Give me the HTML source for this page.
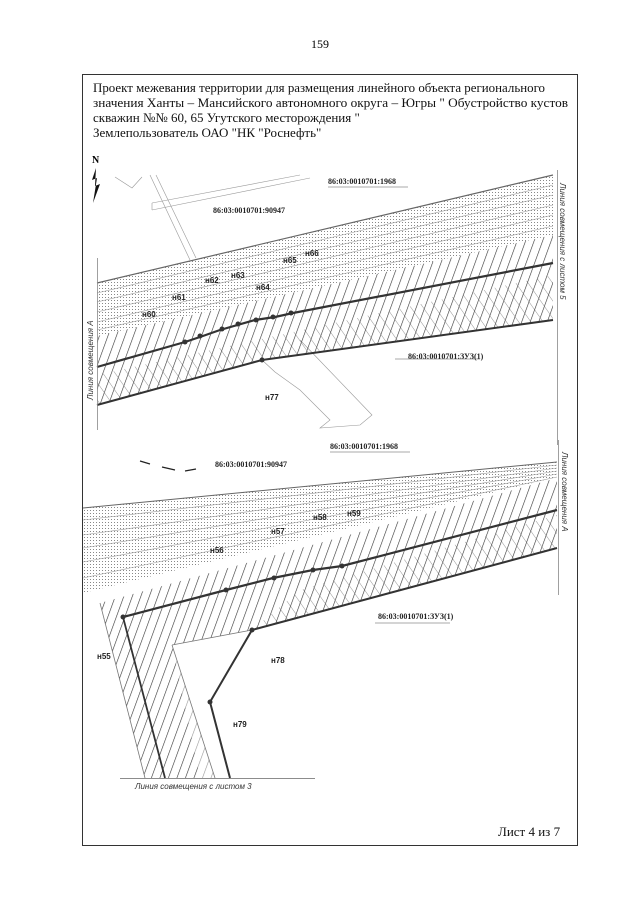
<!DOCTYPE html>
<html><head><meta charset="utf-8"><style>
html,body{margin:0;padding:0;background:#fff;}
svg{display:block}
.s{font-family:"Liberation Serif",serif;}
.a{font-family:"Liberation Sans",sans-serif;}
</style></head><body>
<svg width="640" height="905" viewBox="0 0 640 905" xmlns="http://www.w3.org/2000/svg">
<defs>
<pattern id="h1" patternUnits="userSpaceOnUse" width="8" height="8" patternTransform="rotate(20)">
<line x1="0" y1="0" x2="0" y2="8" stroke="#333" stroke-width="1.2"/></pattern>
<pattern id="h2" patternUnits="userSpaceOnUse" width="10" height="10" patternTransform="rotate(-35)">
<line x1="0" y1="0" x2="0" y2="10" stroke="#666" stroke-width="0.7"/></pattern>
<pattern id="dots" patternUnits="userSpaceOnUse" width="3" height="3">
<rect x="0" y="0" width="1" height="1" fill="#888"/></pattern>
</defs>
<text x="320" y="48" class="s" font-size="12" text-anchor="middle">159</text>
<rect x="82.5" y="74.5" width="495" height="771" fill="none" stroke="#333" stroke-width="1"/>
<g class="s" font-size="13" fill="#111">
<text x="93" y="92" textLength="452" lengthAdjust="spacingAndGlyphs">Проект межевания территории для размещения линейного объекта регионального</text>
<text x="93" y="107" textLength="475" lengthAdjust="spacingAndGlyphs">значения Ханты – Мансийского автономного округа – Югры " Обустройство кустов</text>
<text x="93" y="122">скважин №№ 60, 65 Угутского месторождения "</text>
<text x="93" y="137">Землепользователь ОАО "НК "Роснефть"</text>
</g>
<text x="92" y="163" class="s" font-size="10" font-weight="bold">N</text>
<path d="M96 168 L92 180 L97 178 L93 203 L100 184 L95 186 Z" fill="#111"/>

<!-- TOP SECTION -->
<g>
<polygon points="97,283 553,175 553,235 97,336" fill="url(#dots)"/>
<g stroke="#999" stroke-width="0.6" fill="none">
<line x1="97" y1="283" x2="553" y2="175" stroke="#666" stroke-width="1.2"/>
<line x1="97" y1="293" x2="553" y2="185"/>
<line x1="97" y1="302" x2="553" y2="195"/>
<line x1="97" y1="312" x2="553" y2="205"/>
<line x1="97" y1="322" x2="553" y2="215"/>
<line x1="97" y1="330" x2="553" y2="226"/>
<line x1="150" y1="175" x2="190" y2="260"/>
<line x1="156" y1="175" x2="196" y2="258"/>
<polyline points="115,177 132,188 142,177"/>
<polyline points="152,203 300,175"/>
<polyline points="152,210 310,178"/>
<line x1="152" y1="203" x2="152" y2="210"/>
<polyline points="262,360 275,372 300,390 330,420 320,428 360,425 372,415 300,340"/>
</g>
<polygon points="97,336 553,235 553,320 262,360 97,405" fill="url(#h1)"/>
<polygon points="97,375 553,275 553,320 262,360 97,405" fill="url(#h2)"/>
<polyline points="97,367 185,342 200,337 220,330 255,320 275,317 293,313 553,263" fill="none" stroke="#333" stroke-width="2.2"/>
<polyline points="97,405 262,360 553,320" fill="none" stroke="#333" stroke-width="2"/>
<g fill="#333"><circle cx="185" cy="342" r="2.5"/><circle cx="200" cy="336" r="2.5"/><circle cx="222" cy="329" r="2.5"/><circle cx="238" cy="324" r="2.5"/><circle cx="256" cy="320" r="2.5"/><circle cx="273" cy="317" r="2.5"/><circle cx="291" cy="313" r="2.5"/><circle cx="262" cy="360" r="2.5"/></g>
<line x1="97.5" y1="258" x2="97.5" y2="430" stroke="#888" stroke-width="0.8"/>
<line x1="557.5" y1="170" x2="557.5" y2="445" stroke="#888" stroke-width="0.8"/>
<g class="s" font-size="8" font-weight="bold" fill="#222">
<text x="328" y="184">86:03:0010701:1968</text>
<text x="213" y="213">86:03:0010701:90947</text>
<text x="408" y="359">86:03:0010701:ЗУЗ(1)</text>
</g>
<line x1="328" y1="187" x2="408" y2="187" stroke="#555" stroke-width="0.6"/>
<line x1="395" y1="359" x2="480" y2="359" stroke="#555" stroke-width="0.6"/>
<g class="a" font-size="8" font-weight="bold" fill="#222">
<text x="142" y="317">н60</text><text x="172" y="300">н61</text><text x="205" y="283">н62</text>
<text x="231" y="278">н63</text><text x="256" y="290">н64</text><text x="283" y="263">н65</text>
<text x="305" y="256">н66</text><text x="265" y="400">н77</text>
</g>
<text transform="translate(93,400) rotate(-90)" class="a" font-size="8" font-style="italic" fill="#333">Линия совмещения А</text>
<text transform="translate(560,183) rotate(90)" class="a" font-size="8" font-style="italic" fill="#333">Линия совмещения с листом 5</text>
</g>

<!-- BOTTOM SECTION -->
<g>
<path d="M140 461 L150 464 M162 467 L175 470 M185 471 L196 469" stroke="#222" stroke-width="1.2" fill="none"/>
<polygon points="83,508 557,462 557,477 83,593" fill="url(#dots)"/>
<g stroke="#999" stroke-width="0.6" fill="none">
<line x1="83" y1="508" x2="557" y2="462" stroke="#666" stroke-width="1"/>
<line x1="83" y1="520" x2="557" y2="465"/>
<line x1="83" y1="535" x2="557" y2="468"/>
<line x1="83" y1="548" x2="557" y2="471"/>
<line x1="83" y1="562" x2="557" y2="474"/>
<line x1="83" y1="578" x2="557" y2="477"/>
</g>
<polygon points="100,603 557,478 557,548 252,630 172,645 215,778 145,778" fill="url(#h1)"/>
<polygon points="172,645 210,702 230,778 200,778" fill="#fff" opacity="0.5"/>
<polygon points="300,590 557,515 557,548 252,630" fill="url(#h2)"/>
<g stroke="#777" stroke-width="0.8" fill="none">
<polyline points="100,603 145,778"/>
<polyline points="172,645 252,630"/>
<polyline points="172,645 215,778"/>
</g>
<polyline points="123,617 226,590 273,578 313,570 342,566 557,510" fill="none" stroke="#333" stroke-width="2.2"/>
<line x1="123" y1="617" x2="165" y2="778" stroke="#333" stroke-width="1.8"/>
<polyline points="557,548 252,630 210,702 230,778" fill="none" stroke="#333" stroke-width="2"/>
<g fill="#333"><circle cx="123" cy="617" r="2.5"/><circle cx="226" cy="590" r="2.5"/><circle cx="274" cy="578" r="2.5"/><circle cx="313" cy="570" r="2.5"/><circle cx="342" cy="566" r="2.5"/><circle cx="252" cy="630" r="2.5"/><circle cx="210" cy="702" r="2.5"/></g>
<line x1="120" y1="778.5" x2="315" y2="778.5" stroke="#666" stroke-width="0.8"/>
<line x1="558.5" y1="440" x2="558.5" y2="595" stroke="#888" stroke-width="0.8"/>
<g class="s" font-size="8" font-weight="bold" fill="#222">
<text x="330" y="449">86:03:0010701:1968</text>
<text x="215" y="467">86:03:0010701:90947</text>
<text x="378" y="619">86:03:0010701:ЗУЗ(1)</text>
</g>
<line x1="330" y1="452" x2="410" y2="452" stroke="#555" stroke-width="0.6"/>
<line x1="375" y1="623" x2="450" y2="623" stroke="#555" stroke-width="0.6"/>
<g class="a" font-size="8" font-weight="bold" fill="#222">
<text x="97" y="659">н55</text><text x="210" y="553">н56</text><text x="271" y="534">н57</text>
<text x="313" y="520">н58</text><text x="347" y="516">н59</text><text x="271" y="663">н78</text>
<text x="233" y="727">н79</text>
</g>
<text x="135" y="789" class="a" font-size="8" font-style="italic" fill="#333">Линия совмещения с листом 3</text>
<text transform="translate(562,452) rotate(90)" class="a" font-size="8" font-style="italic" fill="#333">Линия совмещения А</text>
</g>
<text x="498" y="836" class="s" font-size="13" fill="#111">Лист 4 из 7</text>
</svg>
</body></html>
